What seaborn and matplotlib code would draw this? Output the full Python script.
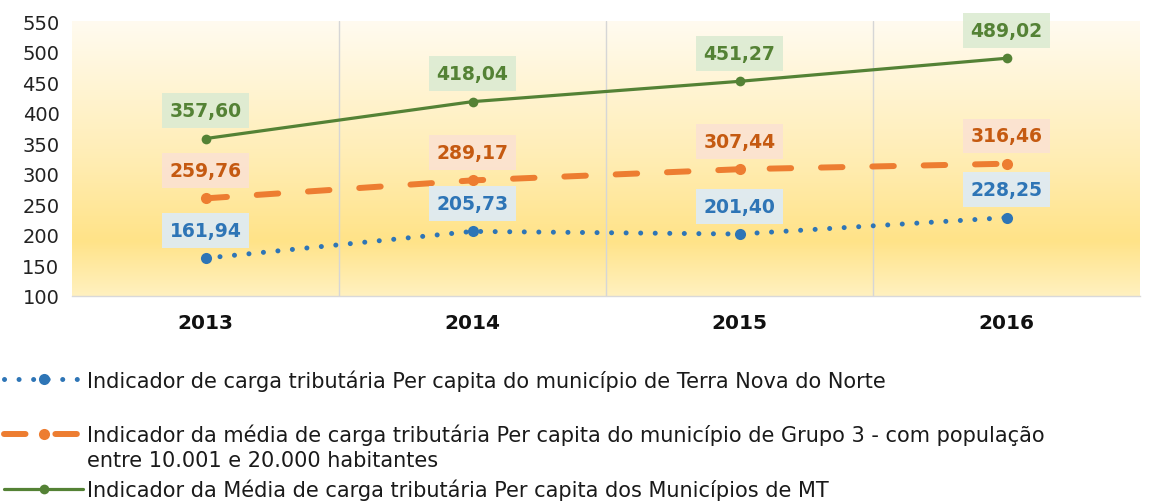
import numpy as np
import pandas as pd
import matplotlib
matplotlib.use("Agg")
import matplotlib.pyplot as plt
import seaborn as sns
from matplotlib.colors import LinearSegmentedColormap
from matplotlib.lines import Line2D

# ---------------- data ----------------
years = ["2013", "2014", "2015", "2016"]
terra_nova = [161.94, 205.73, 201.40, 228.25]
grupo3 = [259.76, 289.17, 307.44, 316.46]
media_mt = [357.60, 418.04, 451.27, 489.02]
y_ticks = [100, 150, 200, 250, 300, 350, 400, 450, 500, 550]

label_terra = "Indicador de carga tributária Per capita do município de Terra Nova do Norte"
label_grupo3 = "Indicador da média de carga tributária Per capita do município de Grupo 3 - com população"
label_grupo3_l2 = "entre 10.001 e 20.000 habitantes"
label_mt = "Indicador da Média de carga tributária Per capita dos Municípios de MT"

# ---------------- style ----------------
sns.set_theme(style="white")
plt.rcParams["font.family"] = ["DejaVu Sans"]

BLUE, BLUE_T, BLUE_BG = "#2E75B6", "#2E75B6", "#DDEBF7"
ORANGE, ORANGE_T, ORANGE_BG = "#ED7D31", "#C55A11", "#FBE2D2"
GREEN, GREEN_T, GREEN_BG = "#548235", "#548235", "#DCEBD2"

W, H = 1155, 502
fig = plt.figure(figsize=(W / 100, H / 100), dpi=100)
ax = fig.add_axes([72 / W, 1 - 297 / H, (1140 - 72) / W, (297 - 22) / H])

df = pd.DataFrame({"x": np.arange(len(years)), "year": years,
                   "terra": terra_nova, "grupo3": grupo3, "mt": media_mt})

# gradient background
grad = np.linspace(0, 1, 256).reshape(-1, 1)
cmap = LinearSegmentedColormap.from_list(
    "bg", [(0.0, "#FFF1C0"), (0.2, "#FFE388"), (0.5, "#FFEDB4"), (1.0, "#FFFBF0")])
ax.imshow(grad, extent=[0, 1, 0, 1], transform=ax.transAxes, origin="lower",
          cmap=cmap, aspect="auto", zorder=0, interpolation="bicubic")

blue_style = dict(color=BLUE, lw=3.6, linestyle=(0, (0.01, 2.9)),
                  dash_capstyle="round", marker="o", ms=8, mew=0)
orange_style = dict(color=ORANGE, lw=4.3, linestyle=(0, (3.6, 5.0)),
                    dash_capstyle="round", marker="o", ms=8, mew=0)
green_style = dict(color=GREEN, lw=2.3, linestyle="-", marker="o", ms=7, mew=0)

sns.lineplot(data=df, x="x", y="terra", ax=ax, zorder=3, **blue_style)
sns.lineplot(data=df, x="x", y="grupo3", ax=ax, zorder=3, **orange_style)
sns.lineplot(data=df, x="x", y="mt", ax=ax, zorder=3, **green_style)

for col, tc, bg in [("terra", BLUE_T, BLUE_BG), ("grupo3", ORANGE_T, ORANGE_BG),
                    ("mt", GREEN_T, GREEN_BG)]:
    for xi, v in zip(df["x"], df[col]):
        ax.annotate(f"{v:.2f}".replace(".", ","), (xi, v), xytext=(0, 20),
                    textcoords="offset points", ha="center", va="center",
                    fontsize=13.5, fontweight="bold", color=tc, zorder=5,
                    bbox=dict(boxstyle="square,pad=0.42", fc=bg, ec="none", alpha=0.9))

ax.set_xlim(-0.5, len(years) - 0.5)
ax.set_ylim(y_ticks[0], y_ticks[-1])
ax.set_yticks(y_ticks)
ax.set_yticklabels([str(t) for t in y_ticks], fontsize=14, color="#222222")
ax.set_xticks(df["x"])
ax.set_xticklabels(years, fontsize=14.5, fontweight="bold", color="#111111")
ax.set_xticks(np.arange(0.5, len(years) - 0.5, 1), minor=True)
ax.grid(False)
ax.grid(True, which="minor", axis="x", color="#D6D6D6", lw=1)
ax.tick_params(axis="both", which="both", length=0)
ax.tick_params(axis="x", pad=12)
ax.tick_params(axis="y", pad=9)
ax.set_xlabel("")
ax.set_ylabel("")
for s in ["left", "right", "top"]:
    ax.spines[s].set_visible(False)
ax.spines["bottom"].set_color("#D9D9D9")
ax.spines["bottom"].set_linewidth(1)

handles = [Line2D([], [], **blue_style), Line2D([], [], **orange_style),
           Line2D([], [], **green_style)]
leg = fig.legend(handles, [label_terra, label_grupo3, label_mt],
                 loc="upper left", bbox_to_anchor=(4 / W, 1 - 370 / H),
                 frameon=False, fontsize=15, handlelength=3.8,
                 handletextpad=0.2, labelspacing=1.6, borderpad=0,
                 borderaxespad=0, labelcolor="#1a1a1a")

fig.canvas.draw()
r = fig.canvas.get_renderer()
bb = leg.get_texts()[1].get_window_extent(r)
fig.text(bb.x0 / W, (bb.y0 - 25) / H, label_grupo3_l2, fontsize=15,
         color="#1a1a1a", ha="left", va="bottom")

fig.savefig("out.png", dpi=100)
